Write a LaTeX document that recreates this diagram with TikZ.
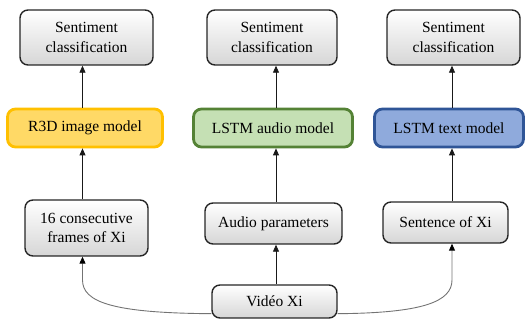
\documentclass[tikz,border=0pt]{standalone}
\usepackage{fontspec}
\setmainfont{Liberation Serif}
\newfontfamily\tnrfont{Liberation Serif}
\usetikzlibrary{arrows.meta,calc}
\definecolor{ylwF}{HTML}{FFD966}
\definecolor{ylwB}{HTML}{FFC000}
\definecolor{grnF}{HTML}{C5E0B4}
\definecolor{grnB}{HTML}{548235}
\definecolor{bluF}{HTML}{8FAADC}
\definecolor{bluB}{HTML}{2F5597}
\begin{document}
\begin{tikzpicture}[x=1pt,y=1pt,
  font=\tnrfont\fontsize{15.5}{19.5}\selectfont,
  graybox/.style={draw=black!85,line width=1.4pt,rounded corners=8pt,
    top color=white,bottom color=gray!32,align=center,inner sep=0pt},
  modelbox/.style={line width=2.8pt,rounded corners=8pt,align=center,inner sep=0pt},
  conn/.style={draw=black!90,line width=0.8pt,-{Triangle[length=7pt,width=6pt]}},
  curv/.style={draw=black!55,line width=0.9pt,-{Triangle[length=7pt,width=6pt,color=black]}}]
\useasboundingbox (0,0) rectangle (527,320);
% columns
\coordinate (colL) at (82.5,0);
\coordinate (colM) at (276,0);
\coordinate (colR) at (452,0);
% top row
\node[graybox,minimum width=133,minimum height=55] (top1) at (86.5,282.5) {Sentiment\\classification};
\node[graybox,minimum width=130,minimum height=55] (top2) at (272,282.5) {Sentiment\\classification};
\node[graybox,minimum width=133,minimum height=55] (top3) at (453.5,282.5) {Sentiment\\classification};
% models
\node[modelbox,draw=ylwB,fill=ylwF,minimum width=155,minimum height=38] (mod1) at (85,192) {R3D image model};
\node[modelbox,draw=grnB,fill=grnF,minimum width=159,minimum height=38] (mod2) at (273,192) {LSTM audio model};
\node[modelbox,draw=bluB,fill=bluF,minimum width=149,minimum height=38] (mod3) at (449,192) {LSTM text model};
% inputs
\node[graybox,minimum width=123,minimum height=56] (bot1) at (86.5,92) {16 consecutive\\frames of Xi};
\node[graybox,minimum width=137,minimum height=41] (bot2) at (273.5,96.5) {Audio parameters};
\node[graybox,minimum width=125,minimum height=41] (bot3) at (445.5,97.5) {Sentence of Xi};
% video
\node[graybox,minimum width=125,minimum height=33] (vid) at (274.5,18.5) {Vidéo Xi};
% arrows model -> top
\draw[conn] (mod1.north -| colL) -- (top1.south -| colL);
\draw[conn] (mod2.north -| colM) -- (top2.south -| colM);
\draw[conn] (mod3.north -| colR) -- (top3.south -| colR);
% arrows input -> model
\draw[conn] (bot1.north -| colL) -- (mod1.south -| colL);
\draw[conn] (bot2.north -| colM) -- (mod2.south -| colM);
\draw[conn] (bot3.north -| colR) -- (mod3.south -| colR);
% video -> inputs
\draw[conn] (vid.north -| colM) -- (bot2.south -| colM);
\coordinate (vL) at ($(vid.south west)+(0,5)$);
\coordinate (vR) at ($(vid.south east)+(0,5)$);
\draw[curv] (vL) .. controls (112,7) and (82.5,18) .. (82.5,40) -- (bot1.south -| colL);
\draw[curv] (vR) .. controls (422,7) and (452,18) .. (452,40) -- (bot3.south -| colR);
\end{tikzpicture}
\end{document}
